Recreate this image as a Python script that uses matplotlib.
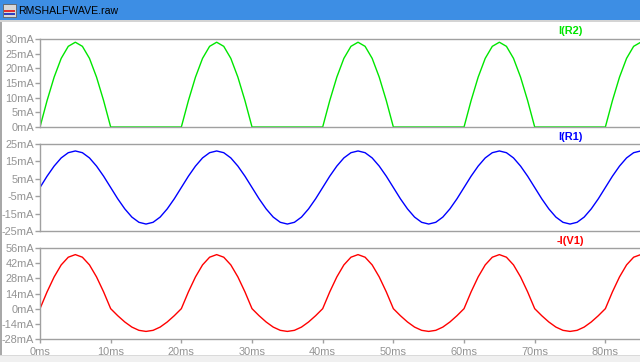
import numpy as np
import matplotlib.pyplot as plt
from matplotlib.patches import Rectangle

plt.rcParams['font.family'] = ['Liberation Sans', 'DejaVu Sans']

# sample grid in ms (1 ms steps)
t_ms = np.arange(0, 86)

# I(R2) - half wave through the diode branch, mA
i_r2 = [0.0, 9.0, 17.0, 23.4, 27.5, 28.9, 27.5, 23.4, 17.0, 9.0,
        0.0, 0.0, 0.0, 0.0, 0.0, 0.0, 0.0, 0.0, 0.0, 0.0,
        0.0, 9.0, 17.0, 23.4, 27.5, 28.9, 27.5, 23.4, 17.0, 9.0,
        0.0, 0.0, 0.0, 0.0, 0.0, 0.0, 0.0, 0.0, 0.0, 0.0,
        0.0, 9.0, 17.0, 23.4, 27.5, 28.9, 27.5, 23.4, 17.0, 9.0,
        0.0, 0.0, 0.0, 0.0, 0.0, 0.0, 0.0, 0.0, 0.0, 0.0,
        0.0, 9.0, 17.0, 23.4, 27.5, 28.9, 27.5, 23.4, 17.0, 9.0,
        0.0, 0.0, 0.0, 0.0, 0.0, 0.0, 0.0, 0.0, 0.0, 0.0,
        0.0, 9.0, 17.0, 23.4, 27.5, 28.9]

# I(R1) - resistor branch, mA
i_r1 = [0.0, 6.5, 12.3, 17.0, 20.0, 21.0, 20.0, 17.0, 12.3, 6.5,
        0.0, -6.5, -12.3, -17.0, -20.0, -21.0, -20.0, -17.0, -12.3, -6.5,
        0.0, 6.5, 12.3, 17.0, 20.0, 21.0, 20.0, 17.0, 12.3, 6.5,
        0.0, -6.5, -12.3, -17.0, -20.0, -21.0, -20.0, -17.0, -12.3, -6.5,
        0.0, 6.5, 12.3, 17.0, 20.0, 21.0, 20.0, 17.0, 12.3, 6.5,
        0.0, -6.5, -12.3, -17.0, -20.0, -21.0, -20.0, -17.0, -12.3, -6.5,
        0.0, 6.5, 12.3, 17.0, 20.0, 21.0, 20.0, 17.0, 12.3, 6.5,
        0.0, -6.5, -12.3, -17.0, -20.0, -21.0, -20.0, -17.0, -12.3, -6.5,
        0.0, 6.5, 12.3, 17.0, 20.0, 21.0]

# -I(V1) - source current, mA
i_v1 = [0.0, 15.5, 29.3, 40.4, 47.5, 49.9, 47.5, 40.4, 29.3, 15.5,
        0.0, -6.5, -12.3, -17.0, -20.0, -21.0, -20.0, -17.0, -12.3, -6.5,
        0.0, 15.5, 29.3, 40.4, 47.5, 49.9, 47.5, 40.4, 29.3, 15.5,
        0.0, -6.5, -12.3, -17.0, -20.0, -21.0, -20.0, -17.0, -12.3, -6.5,
        0.0, 15.5, 29.3, 40.4, 47.5, 49.9, 47.5, 40.4, 29.3, 15.5,
        0.0, -6.5, -12.3, -17.0, -20.0, -21.0, -20.0, -17.0, -12.3, -6.5,
        0.0, 15.5, 29.3, 40.4, 47.5, 49.9, 47.5, 40.4, 29.3, 15.5,
        0.0, -6.5, -12.3, -17.0, -20.0, -21.0, -20.0, -17.0, -12.3, -6.5,
        0.0, 15.5, 29.3, 40.4, 47.5, 49.9]

x_ticks = [0, 10, 20, 30, 40, 50, 60, 70, 80]
r2_ticks = [0, 5, 10, 15, 20, 25, 30]
r1_ticks = [-25, -15, -5, 5, 15, 25]
v1_ticks = [-28, -14, 0, 14, 28, 42, 56]

W, H = 640, 362
fig = plt.figure(figsize=(W / 100, H / 100), dpi=100)
fig.patch.set_facecolor('white')

grey = '#a0a0a0'
txt_grey = '#939393'

# (top px, bottom px, data, ylim, ticks, colour, label)
panes = [
    (39, 127, i_r2, (0, 30), r2_ticks, '#00e600', 'I(R2)'),
    (144, 231, i_r1, (-25, 25), r1_ticks, '#0000ff', 'I(R1)'),
    (248, 339, i_v1, (-28, 56), v1_ticks, '#ff0000', '-I(V1)'),
]

for k, (top, bot, vals, lims, ticks, col, name) in enumerate(panes):
    ax = fig.add_axes([40 / W, 1 - bot / H, 1 - 40 / W, (bot - top) / H])
    ax.plot(t_ms, vals, color=col, lw=1.0)
    ax.set_xlim(0, 84.9)
    ax.set_ylim(*lims)
    ax.set_yticks(ticks)
    ax.set_yticklabels([f'{v}mA' for v in ticks])
    ax.set_xticks(x_ticks)
    for s in ['left', 'top', 'bottom']:
        ax.spines[s].set_color(grey)
        ax.spines[s].set_linewidth(1.0)
    ax.spines['right'].set_visible(False)
    ax.tick_params(axis='y', direction='out', length=3.3, width=1.0, color=grey,
                   labelcolor=txt_grey, labelsize=7.9, pad=0.8)
    if k == 2:
        ax.set_xticklabels([f'{v}ms' for v in x_ticks])
        ax.tick_params(axis='x', direction='out', length=3, width=1.0, color=grey,
                       labelcolor=txt_grey, labelsize=7.9, pad=2.5)
    else:
        ax.tick_params(axis='x', length=0, labelbottom=False)
    ax.patch.set_alpha(0)
    fig.text(570 / W, 1 - (top - 7.5) / H, name, color=col, fontsize=7.9,
             fontweight='bold', ha='center', va='center')

# window chrome: title bar, left border, bottom strip
fig.patches.append(Rectangle((0, 1 - 20 / H), 1, 20 / H, transform=fig.transFigure,
                             facecolor='#3d8ee4', edgecolor='none', zorder=-1))
fig.patches.append(Rectangle((0, 1 - 22 / H), 1, 2 / H, transform=fig.transFigure,
                             facecolor='#d4d4d4', edgecolor='none', zorder=-1))
fig.patches.append(Rectangle((0, 0), 2 / W, 1 - 22 / H, transform=fig.transFigure,
                             facecolor='#a8a8a8', edgecolor='none', zorder=-1))
fig.patches.append(Rectangle((0, 0), 1, 6 / H, transform=fig.transFigure,
                             facecolor='#f0f0f0', edgecolor='none', zorder=-1))
fig.patches.append(Rectangle((0, 6 / H), 1, 1 / H, transform=fig.transFigure,
                             facecolor='#dadada', edgecolor='none', zorder=-1))
# little app icon
fig.patches.append(Rectangle((3 / W, 1 - 17 / H), 13 / W, 13 / H, transform=fig.transFigure,
                             facecolor='#d8d8d8', edgecolor='#606060', lw=0.6))
fig.patches.append(Rectangle((4 / W, 1 - 12 / H), 11 / W, 1.5 / H, transform=fig.transFigure,
                             facecolor='#e03030', edgecolor='none'))
fig.patches.append(Rectangle((4 / W, 1 - 15 / H), 11 / W, 1.5 / H, transform=fig.transFigure,
                             facecolor='#3040c0', edgecolor='none'))
fig.text(18 / W, 1 - 10.5 / H, 'RMSHALFWAVE.raw', color='black', fontsize=7.6,
         ha='left', va='center')

fig.savefig('out.png', dpi=100)
